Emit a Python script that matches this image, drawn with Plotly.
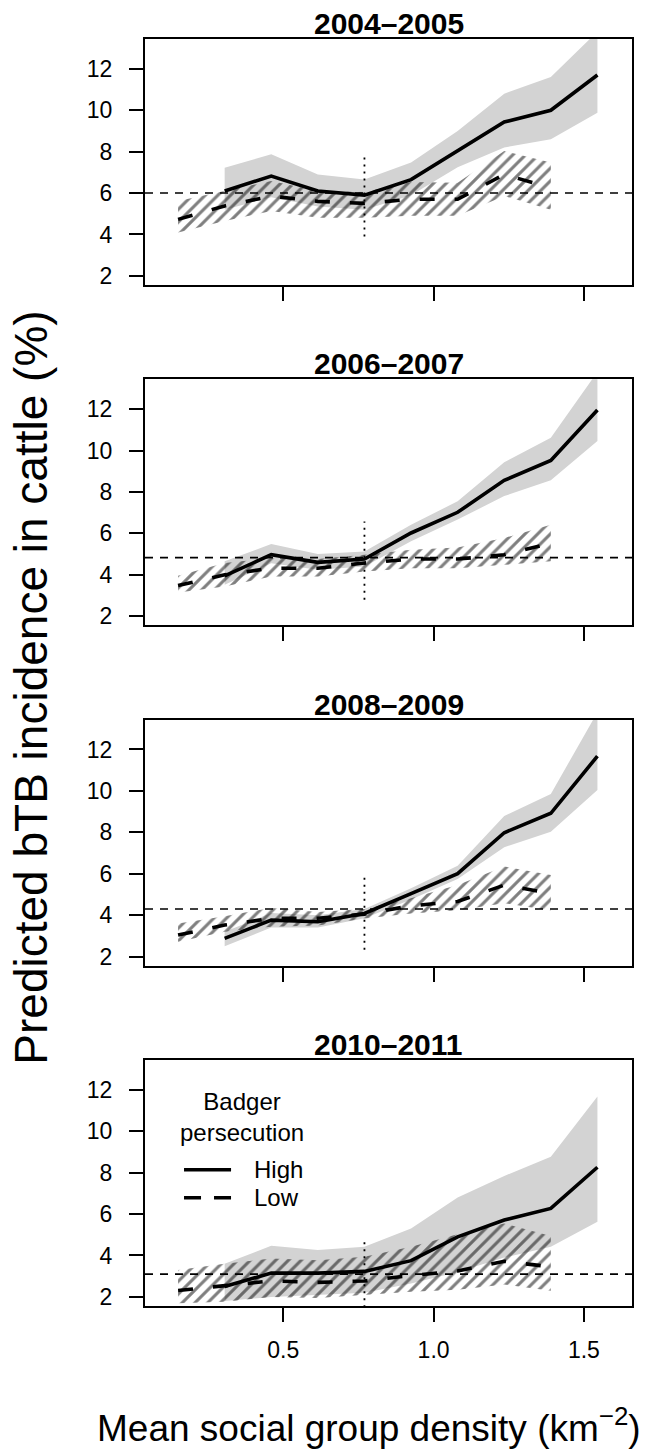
import plotly.graph_objects as go

# ---------------- data ----------------
periods = ["2004\u20132005", "2006\u20132007", "2008\u20132009", "2010\u20132011"]

x_low = [0.15, 0.305, 0.46, 0.615, 0.77, 0.925, 1.08, 1.235, 1.39]
x_high = [0.305, 0.46, 0.615, 0.77, 0.925, 1.08, 1.235, 1.39, 1.545]

high_mid = [
    [6.1, 6.82, 6.1, 5.9, 6.65, 8.05, 9.43, 10.0, 11.7],
    [3.95, 4.97, 4.6, 4.76, 6.02, 7.02, 8.56, 9.52, 11.96],
    [2.88, 3.76, 3.68, 4.08, 5.04, 6.0, 7.98, 8.92, 11.68],
    [2.5, 3.15, 3.15, 3.23, 3.75, 4.9, 5.71, 6.27, 8.26],
]
high_upper = [
    [7.22, 7.87, 6.9, 6.65, 7.47, 9.0, 10.8, 11.6, 13.8],
    [4.65, 5.49, 5.0, 5.13, 6.42, 7.55, 9.44, 10.62, 13.8],
    [3.2, 4.1, 4.0, 4.3, 5.3, 6.38, 8.79, 9.85, 13.8],
    [3.6, 4.47, 4.26, 4.42, 5.3, 6.8, 7.84, 8.77, 11.68],
]
high_lower = [
    [5.2, 5.8, 5.35, 5.2, 5.9, 7.25, 8.2, 8.6, 9.88],
    [3.52, 4.56, 4.24, 4.4, 5.62, 6.67, 7.8, 8.57, 10.46],
    [2.5, 3.4, 3.4, 3.85, 4.75, 5.75, 7.28, 8.03, 10.04],
    [1.8, 2.0, 2.1, 2.2, 2.65, 3.2, 3.9, 4.42, 5.63],
]
low_mid = [
    [4.73, 5.38, 5.85, 5.6, 5.5, 5.7, 5.7, 6.9, 6.25],
    [3.48, 4.0, 4.32, 4.32, 4.57, 4.76, 4.76, 4.97, 5.53],
    [3.04, 3.52, 3.84, 3.85, 4.05, 4.45, 4.66, 5.45, 5.05],
    [2.31, 2.54, 2.77, 2.7, 2.77, 3.03, 3.25, 3.72, 3.45],
]
low_upper = [
    [5.62, 6.1, 6.58, 6.1, 6.05, 6.53, 6.5, 8.03, 7.47],
    [3.95, 4.57, 4.8, 4.76, 4.97, 5.21, 5.32, 5.78, 6.42],
    [3.6, 3.95, 4.35, 4.15, 4.3, 4.82, 5.46, 6.35, 5.94],
    [3.3, 3.6, 3.85, 3.77, 3.94, 4.42, 5.03, 5.55, 4.94],
]
low_lower = [
    [4.09, 4.65, 5.13, 4.81, 4.81, 4.9, 4.9, 5.86, 5.2],
    [3.14, 3.43, 3.92, 3.92, 4.16, 4.32, 4.32, 4.48, 4.65],
    [2.72, 3.2, 3.44, 3.5, 3.84, 4.08, 4.24, 4.58, 4.22],
    [1.69, 1.77, 2.0, 1.95, 2.1, 2.25, 2.35, 2.6, 2.3],
]
mean_incidence = [6.0, 4.83, 4.3, 3.1]          # horizontal dashed reference
mean_density = 0.77                              # vertical dotted reference
ref_low = [3.9, 2.8, 2.33, 1.5]
ref_high = [7.72, 6.58, 6.02, 4.82]

x_ticks = [0.5, 1.0, 1.5]
x_ticktext = ["0.5", "1.0", "1.5"]
y_ticks = [2, 4, 6, 8, 10, 12]
x_range = [0.04, 1.66]
y_range = [1.56, 13.44]

# ---------------- layout helpers ----------------
W, H = 647, 1450
ML = 145
MR = W - 631.7
MT = 39.3
PANEL_H = 246
PANEL_STEP = 340.33
MB = H - (MT + 3 * PANEL_STEP + PANEL_H)
PW, PH = W - ML - MR, H - MT - MB
FONT = "Liberation Sans, Arial, Helvetica, sans-serif"


def fy(py):
    return (H - MB - py) / PH


def fx(px):
    return (px - ML) / PW


fig = go.Figure()
shapes = []
annotations = []

for i in range(4):
    n = i + 1
    xa = "x" if n == 1 else f"x{n}"
    ya = "y" if n == 1 else f"y{n}"
    top = MT + i * PANEL_STEP
    bottom = top + PANEL_H

    # High persecution CI (grey)
    fig.add_trace(go.Scatter(
        x=x_high + x_high[::-1], y=high_upper[i] + high_lower[i][::-1],
        fill="toself", fillcolor="#d3d3d3", mode="lines",
        line=dict(width=0, color="rgba(0,0,0,0)"),
        hoverinfo="skip", showlegend=False, xaxis=xa, yaxis=ya))
    # Low persecution CI (hatched)
    fig.add_trace(go.Scatter(
        x=x_low + x_low[::-1], y=low_upper[i] + low_lower[i][::-1],
        fill="toself", fillcolor="rgba(0,0,0,0)", mode="lines",
        fillpattern=dict(shape="/", fgcolor="black", bgcolor="rgba(0,0,0,0)",
                         size=9, solidity=0.34),
        line=dict(width=0, color="rgba(0,0,0,0)"),
        hoverinfo="skip", showlegend=False, xaxis=xa, yaxis=ya))
    # lines
    fig.add_trace(go.Scatter(
        x=x_high, y=high_mid[i], mode="lines",
        line=dict(color="black", width=3.6),
        name="High", showlegend=False, xaxis=xa, yaxis=ya))
    fig.add_trace(go.Scatter(
        x=x_low, y=low_mid[i], mode="lines",
        line=dict(color="black", width=3.6, dash="15px,20px"),
        name="Low", showlegend=False, xaxis=xa, yaxis=ya))

    # reference lines
    shapes.append(dict(type="line", xref=f"{xa} domain", yref=ya,
                       x0=0, x1=1, y0=mean_incidence[i], y1=mean_incidence[i],
                       line=dict(color="black", width=1.6, dash="8px,7px")))
    shapes.append(dict(type="line", xref=xa, yref=ya,
                       x0=mean_density, x1=mean_density,
                       y0=ref_low[i], y1=ref_high[i],
                       line=dict(color="black", width=1.8, dash="2px,5px")))

    dom = [fy(bottom), fy(top)]
    axis_common = dict(showgrid=False, zeroline=False, showline=True,
                       linecolor="black", linewidth=2, mirror=True,
                       ticks="outside", ticklen=14, tickwidth=1.8,
                       tickcolor="black",
                       tickfont=dict(family=FONT, size=23, color="black"))
    fig.update_layout(**{
        ("xaxis" if n == 1 else f"xaxis{n}"): dict(
            domain=[0, 1], range=x_range, anchor=ya,
            tickvals=x_ticks, ticktext=x_ticktext,
            showticklabels=(n == 4), ticklabelstandoff=8, **axis_common),
        ("yaxis" if n == 1 else f"yaxis{n}"): dict(
            domain=dom, range=y_range, anchor=xa,
            tickvals=y_ticks, ticklabelstandoff=12, **axis_common),
    })

    annotations.append(dict(
        text=f"<b>{periods[i]}</b>", xref="paper", yref="paper",
        x=0.5, y=fy(top), xanchor="center", yanchor="bottom", yshift=-3,
        showarrow=False, font=dict(family=FONT, size=30, color="black")))

# axis titles
annotations.append(dict(
    text="Predicted bTB incidence in cattle (%)", textangle=-90,
    xref="paper", yref="paper", x=fx(31), y=fy(688),
    xanchor="center", yanchor="middle", showarrow=False,
    font=dict(family=FONT, size=46, color="black")))
annotations.append(dict(
    text="Mean social group density (km<sup>\u22122</sup>)",
    xref="paper", yref="paper", x=fx(369), y=fy(1426),
    xanchor="center", yanchor="middle", showarrow=False,
    font=dict(family=FONT, size=37, color="black")))

# legend (panel 4)
annotations.append(dict(
    text="Badger<br>persecution", xref="paper", yref="paper",
    x=fx(242), y=fy(1117), xanchor="center", yanchor="middle", align="center",
    showarrow=False, font=dict(family=FONT, size=24, color="black")))
for label, py, dash in [("High", 1170, "solid"), ("Low", 1198, "17px,13px")]:
    shapes.append(dict(type="line", xref="paper", yref="paper",
                       x0=fx(184), x1=fx(231), y0=fy(py), y1=fy(py),
                       line=dict(color="black", width=3.6, dash=dash)))
    annotations.append(dict(
        text=label, xref="paper", yref="paper", x=fx(252), y=fy(py),
        xanchor="left", yanchor="middle", showarrow=False,
        font=dict(family=FONT, size=24, color="black")))

fig.update_layout(
    width=W, height=H,
    margin=dict(l=ML, r=MR, t=MT, b=MB),
    paper_bgcolor="white", plot_bgcolor="white",
    shapes=shapes, annotations=annotations,
    showlegend=False,
)

fig.write_html(
    "out.html",
    config={"displayModeBar": False},
    post_script="document.body.style.margin='0';document.body.style.overflow='hidden';",
)
